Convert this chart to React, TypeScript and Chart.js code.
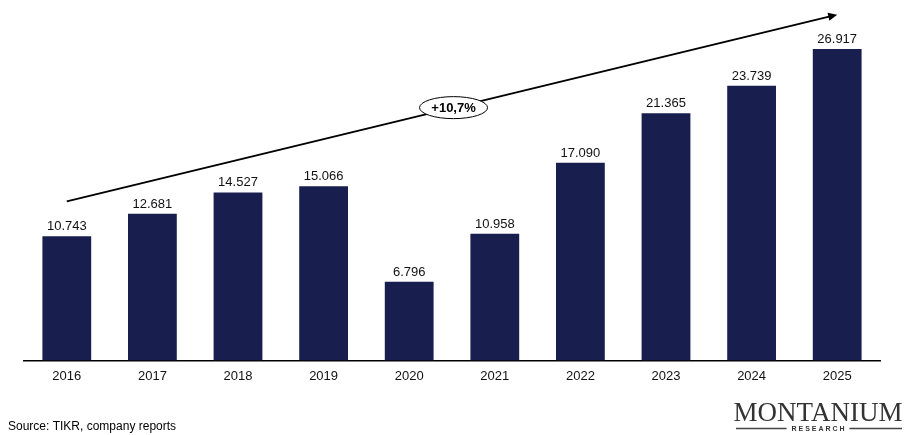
import React, { useEffect, useRef } from "react";
import { Chart, registerables } from "chart.js";

Chart.register(...registerables);

const years = ["2016", "2017", "2018", "2019", "2020", "2021", "2022", "2023", "2024", "2025"];
const values = [10743, 12681, 14527, 15066, 6796, 10958, 17090, 21365, 23739, 26917];
const trendStart = 13750;
const trendEnd = 29900;
const cagrLabel = "+10,7%";
const sourceText = "Source: TIKR, company reports";
const barColor = "#181f4e";

const fmt = (v: number) => (v / 1000).toFixed(3);

const overlay = {
  id: "overlay",
  afterDatasetsDraw(chart: any) {
    const ctx = chart.ctx;
    const meta = chart.getDatasetMeta(0);
    const x = chart.scales.x;
    const y = chart.scales.y;
    ctx.save();
    // value labels
    ctx.fillStyle = "#111";
    ctx.font = "13px 'Liberation Sans', Arial, sans-serif";
    ctx.textAlign = "center";
    ctx.textBaseline = "bottom";
    meta.data.forEach((bar: any, i: number) => {
      ctx.fillText(fmt(values[i]), bar.x, bar.y - 3);
    });
    // trend arrow
    const x0 = x.getPixelForValue(0);
    const x1 = x.getPixelForValue(years.length - 1);
    const y0 = y.getPixelForValue(trendStart);
    const y1 = y.getPixelForValue(trendEnd);
    ctx.strokeStyle = "#000";
    ctx.lineWidth = 2;
    ctx.beginPath();
    ctx.moveTo(x0, y0);
    ctx.lineTo(x1 - 4, y1 + 1);
    ctx.stroke();
    const ang = Math.atan2(y1 - y0, x1 - x0);
    ctx.fillStyle = "#000";
    ctx.beginPath();
    ctx.moveTo(x1, y1);
    ctx.lineTo(x1 - 9 * Math.cos(ang) + 4 * Math.sin(ang), y1 - 9 * Math.sin(ang) - 4 * Math.cos(ang));
    ctx.lineTo(x1 - 9 * Math.cos(ang) - 4 * Math.sin(ang), y1 - 9 * Math.sin(ang) + 4 * Math.cos(ang));
    ctx.closePath();
    ctx.fill();
    // ellipse label
    const cx = x0 + (x1 - x0) * 0.502;
    const cy = y0 + (y1 - y0) * 0.502;
    ctx.beginPath();
    ctx.ellipse(cx, cy, 34, 11, 0, 0, Math.PI * 2);
    ctx.fillStyle = "#fff";
    ctx.fill();
    ctx.lineWidth = 1;
    ctx.strokeStyle = "#000";
    ctx.stroke();
    ctx.fillStyle = "#000";
    ctx.font = "bold 13px 'Liberation Sans', Arial, sans-serif";
    ctx.textBaseline = "middle";
    ctx.fillText(cagrLabel, cx, cy + 1);
    // source
    ctx.textAlign = "left";
    ctx.font = "12px 'Liberation Sans', Arial, sans-serif";
    ctx.fillStyle = "#000";
    ctx.textBaseline = "alphabetic";
    ctx.fillText(sourceText, 8, 430);
    // logo
    ctx.textAlign = "center";
    ctx.fillStyle = "#333";
    ctx.font = "27px 'Liberation Serif', 'DejaVu Serif', serif";
    const lx = 818;
    ctx.fillText("MONTANIUM", lx, 421);
    ctx.font = "bold 7px 'Liberation Sans', Arial, sans-serif";
    const rs = "R E S E A R C H";
    ctx.fillText(rs, lx, 431);
    const w = ctx.measureText(rs).width;
    ctx.strokeStyle = "#444";
    ctx.lineWidth = 1.5;
    ctx.beginPath();
    ctx.moveTo(736, 428.5);
    ctx.lineTo(lx - w / 2 - 5, 428.5);
    ctx.moveTo(lx + w / 2 + 5, 428.5);
    ctx.lineTo(902, 428.5);
    ctx.stroke();
    ctx.restore();
  },
};

export default function App() {
  const ref = useRef<HTMLCanvasElement>(null);
  useEffect(() => {
    const chart = new Chart(ref.current!, {
      type: "bar",
      data: {
        labels: years,
        datasets: [
          {
            data: values,
            backgroundColor: barColor,
            barPercentage: 0.57,
            categoryPercentage: 1,
          },
        ],
      },
      options: {
        animation: false,
        responsive: false,
        layout: { padding: { left: 24, right: 26, top: 10, bottom: 51 } },
        plugins: { legend: { display: false }, tooltip: { enabled: false } },
        scales: {
          x: {
            grid: { display: false },
            border: { display: true, color: "#000", width: 1.5 },
            ticks: {
              color: "#111",
              font: { family: "'Liberation Sans', Arial, sans-serif", size: 13 },
              padding: 0,
            },
          },
          y: { display: false, min: 0, max: 30300 },
        },
      },
      plugins: [overlay],
    });
    return () => chart.destroy();
  }, []);
  return (
    <div style={{ position: "fixed", left: 0, top: 0, width: 906, height: 435, background: "#fff" }}>
      <canvas ref={ref} width={906} height={435} />
    </div>
  );
}
